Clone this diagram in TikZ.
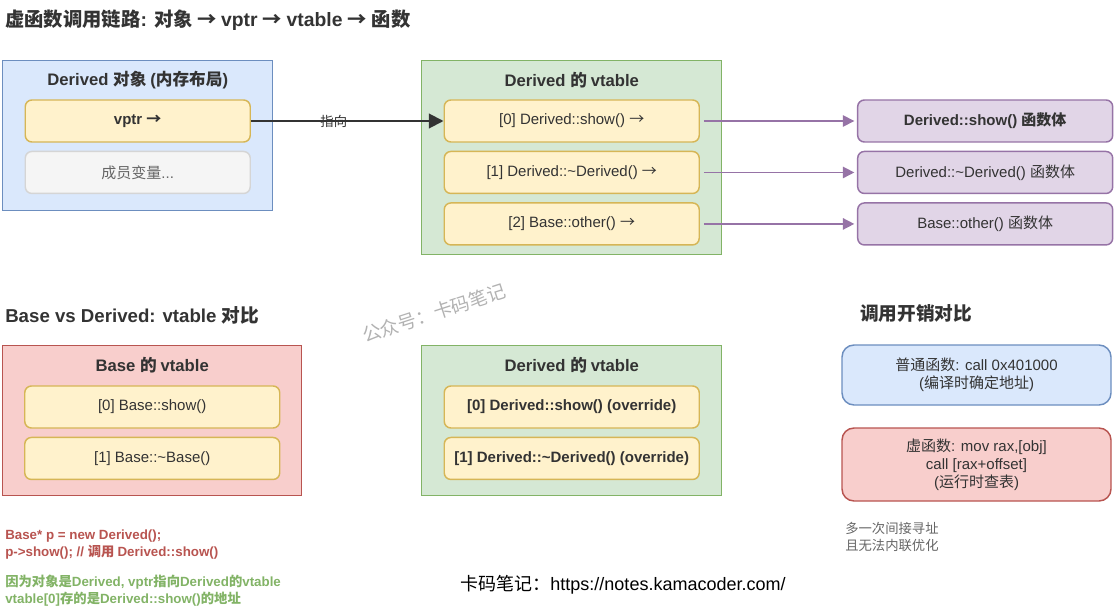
\documentclass[tikz,border=0pt]{standalone}
\usepackage{fontspec}
\setmainfont{Liberation Sans}
\newfontfamily\cjkfont{Noto Sans CJK SC}
\usetikzlibrary{positioning,arrows.meta,calc}
% CJK runs (and arrows) switch to the CJK family, Latin runs go back to the main font
\XeTeXinterchartokenstate=1
\newXeTeXintercharclass\cjkcls
\count255="3000
\loop\XeTeXcharclass\count255=\cjkcls
  \ifnum\count255<"9FFF \advance\count255 by 1 \repeat
\count255="FF00
\loop\XeTeXcharclass\count255=\cjkcls
  \ifnum\count255<"FFEF \advance\count255 by 1 \repeat
\XeTeXcharclass"2192=\cjkcls
\XeTeXinterchartoks 0 \cjkcls={\cjkfont}
\XeTeXinterchartoks 4095 \cjkcls={\cjkfont}
\XeTeXinterchartoks \cjkcls 0={\rmfamily}
\XeTeXinterchartoks 4095 0={\rmfamily}

\definecolor{inkc}{HTML}{333333}
\definecolor{mutedc}{HTML}{666666}
\definecolor{objfill}{HTML}{DAE8FC}
\definecolor{objline}{HTML}{6C8EBF}
\definecolor{vtfill}{HTML}{D5E8D4}
\definecolor{vtline}{HTML}{82B366}
\definecolor{basefill}{HTML}{F8CECC}
\definecolor{baseline}{HTML}{B85450}
\definecolor{slotfill}{HTML}{FFF2CC}
\definecolor{slotline}{HTML}{D6B656}
\definecolor{fnfill}{HTML}{E1D5E7}
\definecolor{fnline}{HTML}{9673A6}
\definecolor{memfill}{HTML}{F5F5F5}
\definecolor{memline}{HTML}{D5D5D5}
\newcommand{\bodyfs}{\fontsize{11.25}{13.5}\selectfont}
\newcommand{\smallfs}{\fontsize{10}{12.5}\selectfont}
\tikzset{
  grp/.style   ={draw,line width=1.1pt,inner sep=0pt,anchor=north west},
  objg/.style  ={grp,draw=objline,fill=objfill},
  vtg/.style   ={grp,draw=vtline,fill=vtfill},
  baseg/.style ={grp,draw=baseline,fill=basefill},
  slot/.style  ={draw=slotline,fill=slotfill,line width=1.1pt,rounded corners=5pt,
                 minimum height=31.5pt,minimum width=191.25pt,text=inkc,font=\bodyfs},
  memb/.style  ={slot,draw=memline,fill=memfill,text=mutedc},
  fnb/.style   ={slot,draw=fnline,fill=fnfill},
  cost/.style  ={draw,line width=1.1pt,rounded corners=9pt,minimum width=201.75pt,
                 align=center,text=inkc,font=\bodyfs},
  ttl/.style   ={font=\fontsize{14}{16}\selectfont\bfseries,text=inkc,anchor=west,inner sep=0pt},
  gttl/.style  ={font=\fontsize{12.5}{14}\selectfont\bfseries,text=inkc},
  lbl/.style   ={font=\fontsize{10}{12}\selectfont,text=inkc,inner sep=1pt},
  note/.style  ={font=\smallfs,align=left,anchor=north west,inner sep=0pt},
  ar/.style    ={-{Triangle[length=11pt,width=11pt]},draw=inkc,line width=1.5pt},
  arP/.style   ={-{Triangle[length=8.5pt,width=8.5pt]},draw=fnline,line width=1.1pt,
                 shorten <=3pt,shorten >=2pt},
}

\begin{document}
\begin{tikzpicture}[x=.75pt,y=-.75pt]
\useasboundingbox (0,0) rectangle (1115,610);

\node[ttl,font=\fontsize{14.5}{16}\selectfont\bfseries] (t1) at (5,20) {虚函数调用链路: 对象 → vptr → vtable → 函数};

% ---------- object -> vptr -> vtable -> function ---------------------------
\node[objg,minimum width=202.5pt,minimum height=112.5pt] (obj) at (2,60) {};
\node[gttl] (objt) at ($(obj.north)+(0,20)$) {Derived 对象 (内存布局)};
\node[slot,minimum width=168.75pt,font=\bodyfs\bfseries] (vptr) at ($(obj.north)+(0,61)$) {vptr →};
\node[memb,minimum width=168.75pt,below=6pt of vptr] (mem) {成员变量...};

\node[vtg,minimum width=225pt,minimum height=145.5pt] (vt) at (421,60) {};
\node[gttl] (vtt) at ($(vt.north)+(0,20)$) {Derived 的 vtable};
\node[slot] (v0) at ($(vt.north)+(0,61)$) {[0] Derived::show() →};
\node[slot,below=6pt of v0] (v1) {[1] Derived::\textasciitilde Derived() →};
\node[slot,below=6pt of v1] (v2) {[2] Base::other() →};

\node[fnb,right=117.75pt of v0,font=\bodyfs\bfseries] (f0) {Derived::show() 函数体};
\node[fnb,right=117.75pt of v1] (f1) {Derived::\textasciitilde Derived() 函数体};
\node[fnb,right=117.75pt of v2] (f2) {Base::other() 函数体};

\draw[ar](vptr)--node[lbl,pos=.43]{指向}(v0);
\draw[arP](v0)--(f0); \draw[arP](v1)--(f1); \draw[arP](v2)--(f2);

% ---------- base vs derived ------------------------------------------------
\node[ttl] (t2) at (5,315) {Base vs Derived: vtable 对比};

\node[baseg,minimum width=224.25pt,minimum height=112.5pt] (bvt) at (2,345) {};
\node[gttl] (bvtt) at ($(bvt.north)+(0,20)$) {Base 的 vtable};
\node[slot] (b0) at ($(bvt.north)+(0,62)$) {[0] Base::show()};
\node[slot,below=6pt of b0] (b1) {[1] Base::\textasciitilde Base()};

\node[vtg,minimum width=225pt,minimum height=112.5pt] (dvt) at (421,345) {};
\node[gttl] (dvtt) at ($(dvt.north)+(0,20)$) {Derived 的 vtable};
\node[slot,font=\bodyfs\bfseries] (d0) at ($(dvt.north)+(0,62)$) {[0] Derived::show() (override)};
\node[slot,font=\bodyfs\bfseries,below=6pt of d0] (d1) {[1] Derived::\textasciitilde Derived() (override)};

\node[note,text=baseline,font=\smallfs\bfseries] (src) at (5,530)
  {Base* p = new Derived();\\p->show(); // 调用 Derived::show()};
\node[note,text=vtline,font=\fontsize{10}{12.75}\selectfont\bfseries] (why) at (5,575)
  {因为对象是Derived, vptr指向Derived的vtable\\vtable[0]存的是Derived::show()的地址};

% ---------- call cost -------------------------------------------------------
\node[ttl] (t3) at (860,313) {调用开销对比};
\node[cost,draw=objline,fill=objfill,minimum height=45pt] (plain) at (976.5,375)
  {普通函数: call 0x401000\\(编译时确定地址)};
\node[cost,draw=baseline,fill=basefill,minimum height=54.75pt] (virt) at (976.5,464.5)
  {虚函数: mov rax,[obj]\\call [rax+offset]\\(运行时查表)};
\node[note,text=mutedc,font=\fontsize{10}{12.75}\selectfont] (cost) at (845,522)
  {多一次间接寻址\\且无法内联优化};

\node[font=\fontsize{14}{16}\selectfont,text=black!30,rotate=18] (wm) at (434,313) {公众号：卡码笔记};
\node[font=\fontsize{13.5}{15}\selectfont,text=black] (url) at (623,585) {卡码笔记：https://notes.kamacoder.com/};
\end{tikzpicture}
\end{document}
